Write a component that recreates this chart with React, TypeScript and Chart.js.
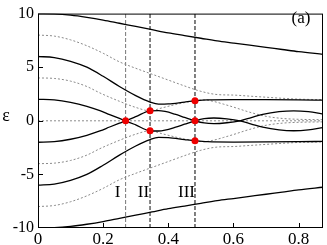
import React, { useEffect, useRef } from "react";
import { Chart, registerables } from "chart.js";

Chart.register(...registerables);

// ---- data ----
const X_TICKS = [0, 0.2, 0.4, 0.6, 0.8];
const Y_TICKS = [-10, -5, 0, 5, 10];
const X_MAX = 0.875;

const X_GRID = [0, 0.05, 0.1, 0.15, 0.2, 0.25, 0.3, 0.35, 0.4, 0.45, 0.5, 0.55, 0.6, 0.65, 0.7, 0.75, 0.8, 0.875];
const SOLID_P10 = [10, 9.97, 9.85, 9.65, 9.4, 9.1, 8.8, 8.5, 8.2, 7.95, 7.7, 7.45, 7.25, 7.05, 6.85, 6.65, 6.45, 6.2];
const SOLID_M10 = [-10, -9.97, -9.85, -9.65, -9.4, -9.1, -8.8, -8.5, -8.2, -7.95, -7.7, -7.45, -7.25, -7.05, -6.85, -6.65, -6.45, -6.2];
const DOT_P8 = [8.0, 7.9, 7.55, 7.0, 6.3, 5.5, 4.9, 4.35, 3.8, 3.25, 2.75, 2.45, 2.4, 2.3, 2.2, 2.1, 2.02, 1.97];
const DOT_M8 = [-8.0, -7.9, -7.55, -7.0, -6.3, -5.5, -4.9, -4.35, -3.8, -3.25, -2.75, -2.45, -2.4, -2.3, -2.2, -2.1, -2.02, -1.97];

const X_S6 = [0, 0.05, 0.1, 0.15, 0.2, 0.25, 0.3, 0.344, 0.37, 0.4, 0.45, 0.482, 0.52, 0.6, 0.7, 0.8, 0.875];
const SOLID_P6 = [6, 5.9, 5.55, 5.0, 4.15, 3.2, 2.35, 1.75, 1.55, 1.57, 1.75, 1.86, 1.95, 1.98, 1.97, 1.95, 1.92];
const SOLID_M6 = [-6, -5.9, -5.55, -5.0, -4.15, -3.2, -2.35, -1.75, -1.55, -1.57, -1.75, -1.86, -1.95, -1.98, -1.97, -1.95, -1.92];

const X_S2 = [0, 0.05, 0.1, 0.15, 0.19, 0.22, 0.25, 0.269, 0.3, 0.344, 0.37, 0.39, 0.42, 0.45, 0.482, 0.51, 0.54, 0.58, 0.62, 0.655, 0.69, 0.74, 0.785, 0.83, 0.875];
const SOLID_P2 = [2, 1.95, 1.72, 1.35, 0.95, 0.58, 0.22, 0, -0.38, -0.93, -0.95, -0.87, -0.62, -0.32, 0, 0.2, 0.26, 0.18, 0, -0.3, -0.6, -0.85, -0.93, -0.85, -0.63];
const SOLID_M2 = [-2, -1.95, -1.72, -1.35, -0.95, -0.58, -0.22, 0, 0.38, 0.93, 0.95, 0.87, 0.62, 0.32, 0, -0.2, -0.26, -0.18, 0, 0.3, 0.6, 0.85, 0.93, 0.85, 0.63];

const X_D4 = [0, 0.05, 0.1, 0.15, 0.19, 0.25, 0.3, 0.344, 0.38, 0.42, 0.45, 0.482, 0.51, 0.54, 0.57, 0.6, 0.65, 0.7, 0.75, 0.8, 0.875];
const DOT_P4 = [4, 3.95, 3.7, 3.2, 2.6, 1.82, 1.25, 0.93, 1.2, 1.5, 1.7, 1.86, 1.95, 1.8, 1.55, 1.28, 0.8, 0.42, 0.22, 0.14, 0.1];
const DOT_M4 = [-4, -3.95, -3.7, -3.2, -2.6, -1.82, -1.25, -0.93, -1.2, -1.5, -1.7, -1.86, -1.95, -1.8, -1.55, -1.28, -0.8, -0.42, -0.22, -0.14, -0.1];

const X_D0 = [0, 0.875];
const DOT_0 = [0, 0];

const V_LINES = [0.269, 0.344, 0.482];
const V_LABELS = ["I", "II", "III"];
const RED_X = [0.269, 0.344, 0.344, 0.482, 0.482, 0.482];
const RED_Y = [0, 0.93, -0.93, 1.86, 0, -1.86];

const pts = (xs: number[], ys: number[]) => xs.map((x, i) => ({ x, y: ys[i] }));

const FONT = "'Liberation Serif', 'DejaVu Serif', serif";

export default function App() {
  const ref = useRef<HTMLCanvasElement | null>(null);

  useEffect(() => {
    document.body.style.margin = "0";
    const canvas = ref.current;
    if (!canvas) return;

    const solid = (xs: number[], ys: number[]) => ({
      data: pts(xs, ys),
      borderColor: "#000",
      borderWidth: 1.3,
      pointRadius: 0,
      cubicInterpolationMode: "monotone" as const,
      order: 2,
    });
    const dotted = (xs: number[], ys: number[]) => ({
      data: pts(xs, ys),
      borderColor: "#8a8a8a",
      borderWidth: 1,
      borderDash: [2, 2],
      pointRadius: 0,
      cubicInterpolationMode: "monotone" as const,
      order: 3,
    });
    const vColors = ["#777", "#666", "#000"];
    const vWidths = [1, 1.6, 1];
    const vLines = V_LINES.map((x, i) => ({
      data: [
        { x, y: -10 },
        { x, y: 10 },
      ],
      borderColor: vColors[i],
      borderWidth: vWidths[i],
      borderDash: [4, 2],
      pointRadius: 0,
      order: 4,
    }));

    const deco = {
      id: "deco",
      afterDraw(chart: any) {
        const ctx = chart.ctx;
        const { left, right, top, bottom } = chart.chartArea;
        const xs = chart.scales.x;
        const ys = chart.scales.y;
        ctx.save();
        ctx.strokeStyle = "#000";
        ctx.lineWidth = 1;
        ctx.strokeRect(left + 0.5, top + 0.5, right - left - 1, bottom - top - 1);
        ctx.beginPath();
        X_TICKS.slice(1).forEach((v) => {
          const px = Math.round(xs.getPixelForValue(v)) + 0.5;
          ctx.moveTo(px, bottom);
          ctx.lineTo(px, bottom - 5);
        });
        Y_TICKS.slice(1, -1).forEach((v) => {
          const py = Math.round(ys.getPixelForValue(v)) + 0.5;
          ctx.moveTo(left, py);
          ctx.lineTo(left + 5, py);
        });
        ctx.stroke();
        ctx.fillStyle = "#000";
        ctx.textAlign = "center";
        ctx.textBaseline = "alphabetic";
        ctx.font = `17px ${FONT}`;
        const labelX = [117.5, 143.5, 186.5];
        V_LABELS.forEach((t, i) => ctx.fillText(t, labelX[i], 197));
        ctx.fillText("(a)", 301, 23);
        ctx.font = `18px ${FONT}`;
        ctx.fillText("ε", 6, 121);
        ctx.restore();
      },
    };

    const chart = new Chart(canvas, {
      type: "line",
      data: {
        datasets: [
          {
            type: "scatter",
            data: pts(RED_X, RED_Y),
            backgroundColor: "#ee0000",
            borderColor: "#ee0000",
            pointRadius: 3.5,
            pointBorderWidth: 0,
            showLine: false,
            order: 0,
          } as any,
          solid(X_GRID, SOLID_P10),
          solid(X_GRID, SOLID_M10),
          solid(X_S6, SOLID_P6),
          solid(X_S6, SOLID_M6),
          solid(X_S2, SOLID_P2),
          solid(X_S2, SOLID_M2),
          dotted(X_GRID, DOT_P8),
          dotted(X_GRID, DOT_M8),
          dotted(X_D4, DOT_P4),
          dotted(X_D4, DOT_M4),
          dotted(X_D0, DOT_0),
          ...vLines,
        ],
      },
      options: {
        responsive: false,
        animation: false,
        maintainAspectRatio: false,
        layout: { padding: { top: 6, right: 2, left: 0, bottom: 0 } },
        plugins: { legend: { display: false }, tooltip: { enabled: false } },
        scales: {
          x: {
            type: "linear",
            min: 0,
            max: X_MAX,
            afterBuildTicks: (s: any) => {
              s.ticks = X_TICKS.map((v) => ({ value: v }));
            },
            afterFit: (s: any) => {
              s.height = 17;
            },
            grid: { display: false, drawTicks: false, tickLength: 0 },
            border: { display: false },
            ticks: {
              color: "#000",
              padding: 1,
              maxRotation: 0,
              autoSkip: false,
              font: { family: FONT, size: 17 },
              callback: (v: any) => String(v),
            },
          },
          y: {
            type: "linear",
            min: -10,
            max: 10,
            afterBuildTicks: (s: any) => {
              s.ticks = Y_TICKS.map((v) => ({ value: v }));
            },
            afterFit: (s: any) => {
              s.width = 38;
            },
            grid: { display: false, drawTicks: false, tickLength: 0 },
            border: { display: false },
            ticks: {
              color: "#000",
              padding: 4,
              autoSkip: false,
              font: { family: FONT, size: 16 },
              callback: (v: any) => String(v),
            },
          },
        },
      },
      plugins: [deco],
    });
    return () => chart.destroy();
  }, []);

  return (
    <div style={{ width: 327, height: 245 }}>
      <canvas ref={ref} width={327} height={245} style={{ display: "block" }} />
    </div>
  );
}
